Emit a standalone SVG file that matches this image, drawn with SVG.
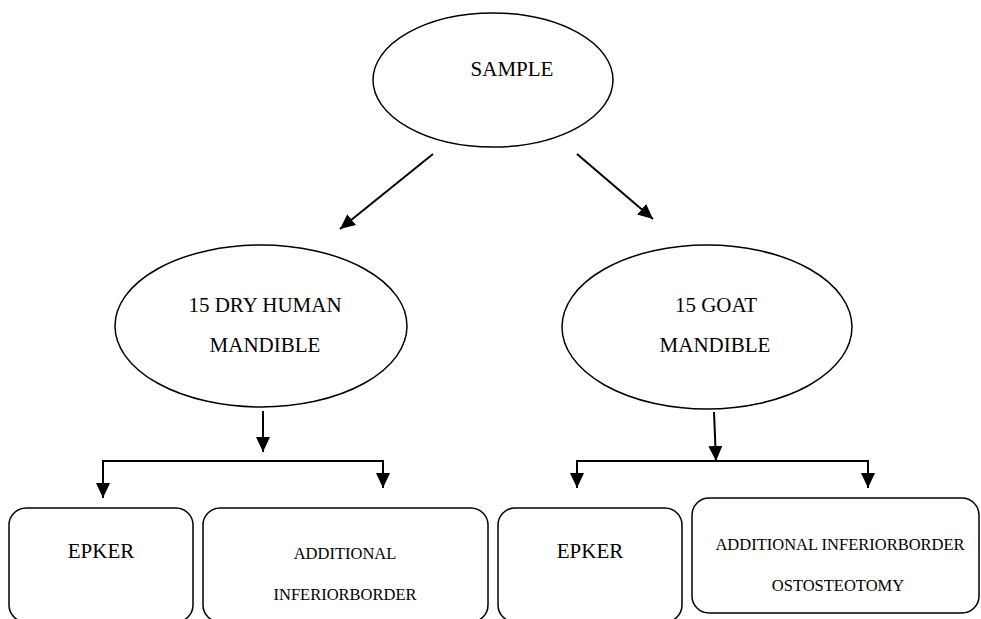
<svg xmlns="http://www.w3.org/2000/svg" width="981" height="619" viewBox="0 0 981 619">
<style>
.shape{fill:#fff;stroke:#000;stroke-width:1.5}
.conn{fill:none;stroke:#000;stroke-width:2}
.lbl{font-family:'Liberation Serif','Times New Roman',Times,'DejaVu Serif',serif;fill:#000;text-anchor:middle}
.big{font-size:21px}
.small{font-size:16.5px}
</style>
<defs>
<marker id="ah" markerUnits="userSpaceOnUse" markerWidth="16" markerHeight="14" refX="15" refY="7" orient="auto">
<path d="M0,0 L15,7 L0,14 z" fill="#000"/>
</marker>
</defs>
<rect width="981" height="619" fill="#fff"/>
<g id="sample">
<ellipse class="shape" cx="493" cy="80" rx="120" ry="67"/>
<text class="lbl big" font-family="Liberation Serif, serif" x="512" y="76">SAMPLE</text>
</g>
<g id="human">
<ellipse class="shape" cx="261" cy="326" rx="146" ry="81"/>
<text class="lbl big" font-family="Liberation Serif, serif" x="265" y="312">15 DRY HUMAN</text>
<text class="lbl big" font-family="Liberation Serif, serif" x="265" y="352">MANDIBLE</text>
</g>
<g id="goat">
<ellipse class="shape" cx="707" cy="327" rx="145" ry="82"/>
<text class="lbl big" font-family="Liberation Serif, serif" x="716" y="312">15 GOAT</text>
<text class="lbl big" font-family="Liberation Serif, serif" x="715" y="352">MANDIBLE</text>
</g>
<g id="epker1">
<rect class="shape" x="9" y="508" width="184" height="114" rx="17"/>
<text class="lbl big" font-family="Liberation Serif, serif" x="101" y="558">EPKER</text>
</g>
<g id="aib1">
<rect class="shape" x="203" y="508" width="285" height="114" rx="17"/>
<text class="lbl small" font-family="Liberation Serif, serif" x="345" y="559">ADDITIONAL</text>
<text class="lbl small" font-family="Liberation Serif, serif" x="345" y="600">INFERIORBORDER</text>
</g>
<g id="epker2">
<rect class="shape" x="498" y="508" width="184" height="114" rx="17"/>
<text class="lbl big" font-family="Liberation Serif, serif" x="590" y="558">EPKER</text>
</g>
<g id="aib2">
<rect class="shape" x="692" y="498" width="287" height="115" rx="17"/>
<text class="lbl small" font-family="Liberation Serif, serif" x="840" y="550">ADDITIONAL INFERIORBORDER</text>
<text class="lbl small" font-family="Liberation Serif, serif" x="838" y="591">OSTOSTEOTOMY</text>
</g>
<g id="connectors">
<line class="conn" x1="433" y1="154" x2="340" y2="229" marker-end="url(#ah)"/>
<line class="conn" x1="577" y1="154" x2="653" y2="219" marker-end="url(#ah)"/>
<line class="conn" x1="263" y1="411" x2="263" y2="452" marker-end="url(#ah)"/>
<polyline class="conn" points="103,498 103,461 383,461 383,488"/>
<line class="conn" x1="103" y1="470" x2="103" y2="498" marker-end="url(#ah)"/>
<line class="conn" x1="383" y1="470" x2="383" y2="488" marker-end="url(#ah)"/>
<line class="conn" x1="714" y1="412" x2="716" y2="461" marker-end="url(#ah)"/>
<polyline class="conn" points="577,488 577,461 868,461 868,488"/>
<line class="conn" x1="577" y1="470" x2="577" y2="488" marker-end="url(#ah)"/>
<line class="conn" x1="868" y1="470" x2="868" y2="488" marker-end="url(#ah)"/>
</g>
</svg>
